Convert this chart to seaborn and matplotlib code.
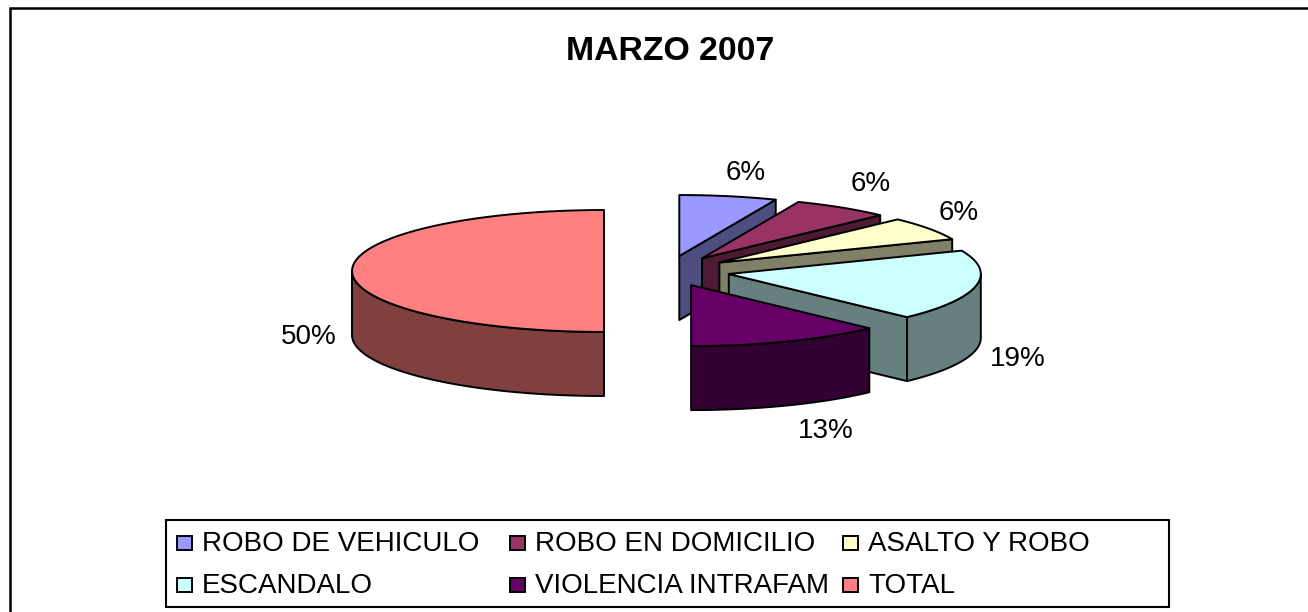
import matplotlib
matplotlib.use("Agg")
import matplotlib.pyplot as plt
import numpy as np
import seaborn as sns
from matplotlib.patches import Polygon, Rectangle

TITLE = "MARZO 2007"
CATEGORIES = ["ROBO DE VEHICULO", "ROBO EN DOMICILIO", "ASALTO Y ROBO", "ESCANDALO", "VIOLENCIA INTRAFAM", "TOTAL"]
COUNTS = [1, 1, 1, 3, 2, 8]
COLORS = ["#9999FF", "#993366", "#FFFFCC", "#CCFFFF", "#660066", "#FF8080"]

# pie geometry, in figure pixels
CENTER_X, CENTER_Y = 667, 271
RADIUS_X, RADIUS_Y = 252, 61
DEPTH = 64
EXPLODE = 0.25
LABEL_OFFSETS = [(17, -23), (29, -24), (30, -16), (42, 73), (38, 90), (-43, 66)]

# legend layout, in figure pixels
LEGEND_BOX = (166, 520, 1003, 87)
LEGEND_COLUMN_X = [177, 510, 843]
LEGEND_ROW_Y = [536, 578]
SWATCH = 15


def point(cx, cy, angle):
    # angle in degrees, clockwise from 12 o'clock
    rad = np.radians(angle)
    return cx + RADIUS_X * np.sin(rad), cy - RADIUS_Y * np.cos(rad)


def arc(cx, cy, start, stop):
    angles = np.linspace(start, stop, 60)
    return np.column_stack(point(cx, cy, angles))


def face(ax, points, color):
    ax.add_patch(Polygon(points, closed=True, facecolor=color, edgecolor="black", linewidth=1.4, joinstyle="round"))


def draw_slice(ax, start, stop, color):
    mid = np.radians((start + stop) / 2)
    cx = CENTER_X + EXPLODE * RADIUS_X * np.sin(mid)
    cy = CENTER_Y - EXPLODE * RADIUS_Y * np.cos(mid)
    side = tuple(np.array(color) * 0.5)

    # radial wall on the closing edge, only seen when it faces down
    if 0 < stop < 180:
        end = point(cx, cy, stop)
        face(ax, [(cx, cy), end, (end[0], end[1] + DEPTH), (cx, cy + DEPTH)], side)

    # outer wall, lower half of the ellipse only
    low, high = max(start, 90), min(stop, 270)
    if low < high:
        rim = arc(cx, cy, low, high)
        face(ax, np.vstack([rim, rim[::-1] + [0, DEPTH]]), side)

    face(ax, np.vstack([[cx, cy], arc(cx, cy, start, stop)]), color)
    return cx, cy


def draw_legend(ax, palette):
    x, y, w, h = LEGEND_BOX
    ax.add_patch(Rectangle((x, y), w, h, facecolor="white", edgecolor="black", linewidth=1.5))
    for i, name in enumerate(CATEGORIES):
        left = LEGEND_COLUMN_X[i % 3]
        top = LEGEND_ROW_Y[i // 3]
        ax.add_patch(Rectangle((left, top), SWATCH, SWATCH - 1, facecolor=palette[i], edgecolor="black", linewidth=1.4))
        ax.text(left + 25, top + 15, name, ha="left", va="baseline", fontsize=20, color="black")


def main():
    sns.set_theme(style="white")
    plt.rcParams["font.family"] = ["Liberation Sans", "DejaVu Sans"]
    palette = sns.color_palette(COLORS)

    fig = plt.figure(figsize=(13.08, 6.12), dpi=100, facecolor="white")
    ax = fig.add_axes([0, 0, 1, 1])
    ax.set_xlim(0, 1308)
    ax.set_ylim(612, 0)
    ax.axis("off")

    # chart frame, right and bottom sides fall outside the picture
    ax.plot([10, 10, 1320], [620, 8, 8], color="black", linewidth=1.8, solid_joinstyle="miter")

    ax.text(670, 52, TITLE, ha="center", va="center", fontsize=24.3, fontweight="bold", color="black")

    total = sum(COUNTS)
    edges = np.cumsum([0] + COUNTS) / total * 360
    for i, count in enumerate(COUNTS):
        start, stop = edges[i], edges[i + 1]
        cx, cy = draw_slice(ax, start, stop, palette[i])
        x, y = point(cx, cy, (start + stop) / 2)
        dx, dy = LABEL_OFFSETS[i]
        # half up, like the spreadsheet does (12.5 -> 13)
        share = int(np.floor(count / total * 100 + 0.5))
        ax.text(x + dx, y + dy, f"{share}%", ha="center", va="center", fontsize=20, color="black")

    draw_legend(ax, palette)

    fig.savefig("out.png", dpi=100)


if __name__ == "__main__":
    main()
